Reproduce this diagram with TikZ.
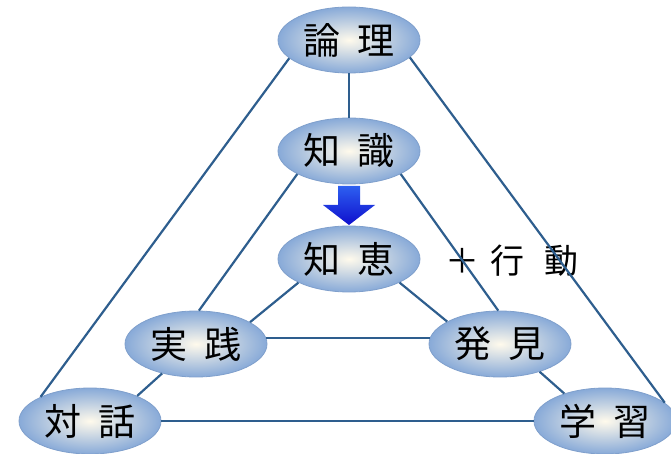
\documentclass[tikz,border=0pt]{standalone}
\usepackage{fontspec}
\newfontfamily\jpfont{Noto Sans CJK JP}
\usetikzlibrary{shapes.geometric}
\definecolor{linkblue}{RGB}{46,94,142}
\definecolor{bubblein}{RGB}{255,250,236}
\definecolor{bubbleout}{RGB}{136,170,216}
\definecolor{bubbleedge}{RGB}{128,160,204}
\definecolor{arrowtop}{RGB}{45,95,240}
\definecolor{arrowbot}{RGB}{15,15,205}
\newcommand{\gap}{\hspace{0.45em}}

\begin{document}
\begin{tikzpicture}[x=1pt,y=-1pt,
  bubble/.style={ellipse,draw=bubbleedge,line width=0.8pt,inner color=bubblein,outer color=bubbleout,
    minimum width=142pt,minimum height=66pt,inner sep=0pt,font=\jpfont\fontsize{37}{37}\selectfont},
  link/.style={draw=linkblue,line width=2.2pt}]
  \useasboundingbox (0,0) rectangle (671,454);

  \node [bubble] (ronri) at (349,40) {論\gap 理};
  \node [bubble] (chishiki) at (349,151) {知\gap 識};
  \node [bubble] (chie) at (349,259) {知\gap 恵};
  \node [bubble] (jissen) at (196,344) {実\gap 践};
  \node [bubble] (hakken) at (500,344) {発\gap 見};
  \node [bubble] (taiwa) at (90,421) {対\gap 話};
  \node [bubble] (gakushu) at (605,421) {学\gap 習};
  \node [font=\jpfont\fontsize{34}{34}\selectfont] (koudou) at (512,261) {＋\hspace{0.32em}行\hspace{0.59em}動};

  \shade [top color=arrowtop,bottom color=arrowbot] (338,186) -- (360,186) -- (360,205) -- (375,205)
    -- (349,225) -- (323,205) -- (338,205) -- cycle;

  \draw [link] (ronri.south) -- (chishiki.north);
  \draw [link] (ronri.197) -- (taiwa.154);
  \draw [link] (ronri.344) -- (gakushu.17);
  \draw [link] (chishiki.204) -- (jissen.85);
  \draw [link] (chishiki.336) -- (hakken.93);
  \draw [link] (chie.205) -- (jissen.22);
  \draw [link] (chie.335) -- (hakken.157);
  \draw [link] (jissen.5) -- (hakken.175);
  \draw [link] (jissen.221) -- (taiwa.28);
  \draw [link] (hakken.325) -- (gakushu.146);
  \draw [link] (taiwa.east) -- (gakushu.west);
\end{tikzpicture}
\end{document}
